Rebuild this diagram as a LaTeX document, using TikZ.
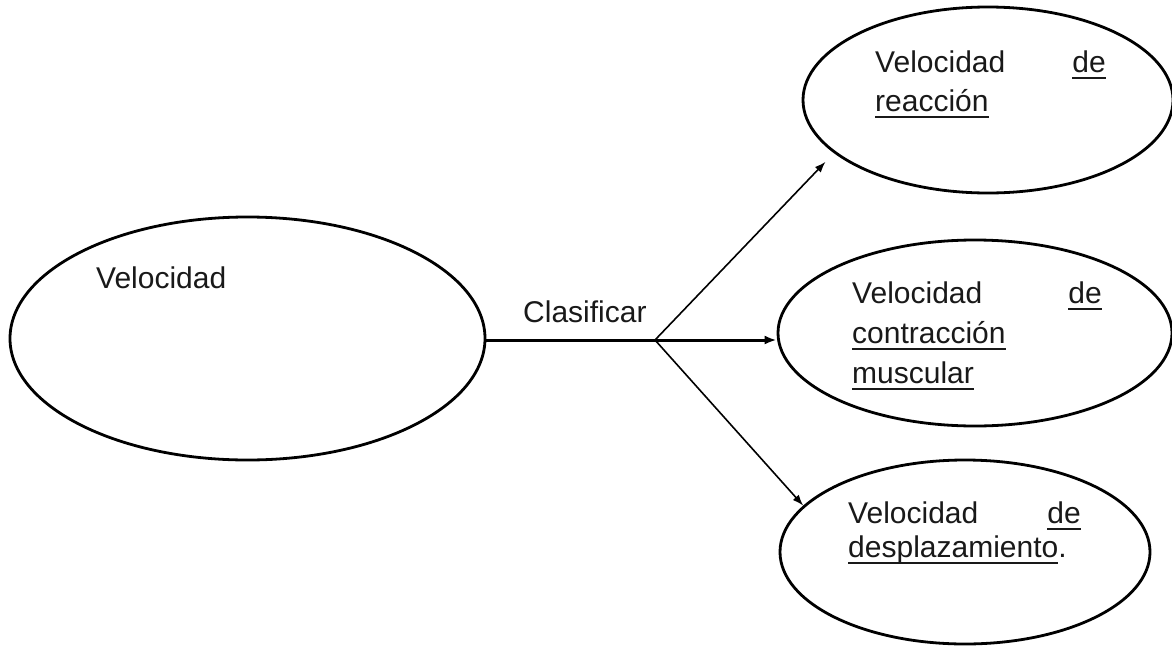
\documentclass[tikz,border=0pt]{standalone}
\usepackage{fontspec}
\setmainfont{Liberation Sans}
\usetikzlibrary{shapes.geometric,arrows.meta}
\newcommand\myul[1]{\setbox0=\hbox{#1}\rlap{\rule[-7pt]{\wd0}{2pt}}\box0}
\tikzset{
  oval/.style={draw=black, line width=2.8pt, shape=ellipse, inner sep=0pt},
  txt/.style={anchor=base west, inner sep=0pt, font=\fontsize{30}{36}\selectfont, text=black!90},
  txtr/.style={txt, anchor=base east},
  thin arrow/.style={line width=1.6pt, -{Latex[length=11pt,width=8pt]}},
  thick line/.style={line width=3pt}
}
\begin{document}
\begin{tikzpicture}[x=1pt,y=-1pt]
\useasboundingbox (0,0) rectangle (1172,645);
% ellipses
\node[oval, minimum width=475pt, minimum height=243pt] (e0) at (247.5,338.5) {};
\node[oval, minimum width=370pt, minimum height=186pt] (e1) at (988,100) {};
\node[oval, minimum width=394pt, minimum height=186pt] (e2) at (975,333) {};
\node[oval, minimum width=370pt, minimum height=184pt] (e3) at (965,552) {};
% texts
\node[txt] (t0) at (96,288) {Velocidad};
\node[txt] (t1a) at (875,72) {Velocidad};
\node[txtr] (t1b) at (1106,72) {\myul{de}};
\node[txt] (t1c) at (875,111) {\myul{reacción}};
\node[txt] (t2a) at (852,303) {Velocidad};
\node[txtr] (t2b) at (1102,303) {\myul{de}};
\node[txt] (t2c) at (852,343) {\myul{contracción}};
\node[txt] (t2d) at (852,383) {\myul{muscular}};
\node[txt] (t3a) at (848,523) {Velocidad};
\node[txtr] (t3b) at (1081,523) {\myul{de}};
\node[txt] (t3c) at (848,557) {\myul{desplazamiento}.};
\node[txt] (lab) at (523,322) {Clasificar};
% connectors
\coordinate (br) at (655,340);
\draw[thick line] (e0.east |- br) -- (br);
\draw[thick line, -{Latex[length=12pt,width=9pt]}] (br) -- (br -| e2.west);
\draw[thin arrow, shorten >=12pt] (br) -- (e1.199);
\draw[thin arrow] (br) -- (e3.164);
\end{tikzpicture}
\end{document}
